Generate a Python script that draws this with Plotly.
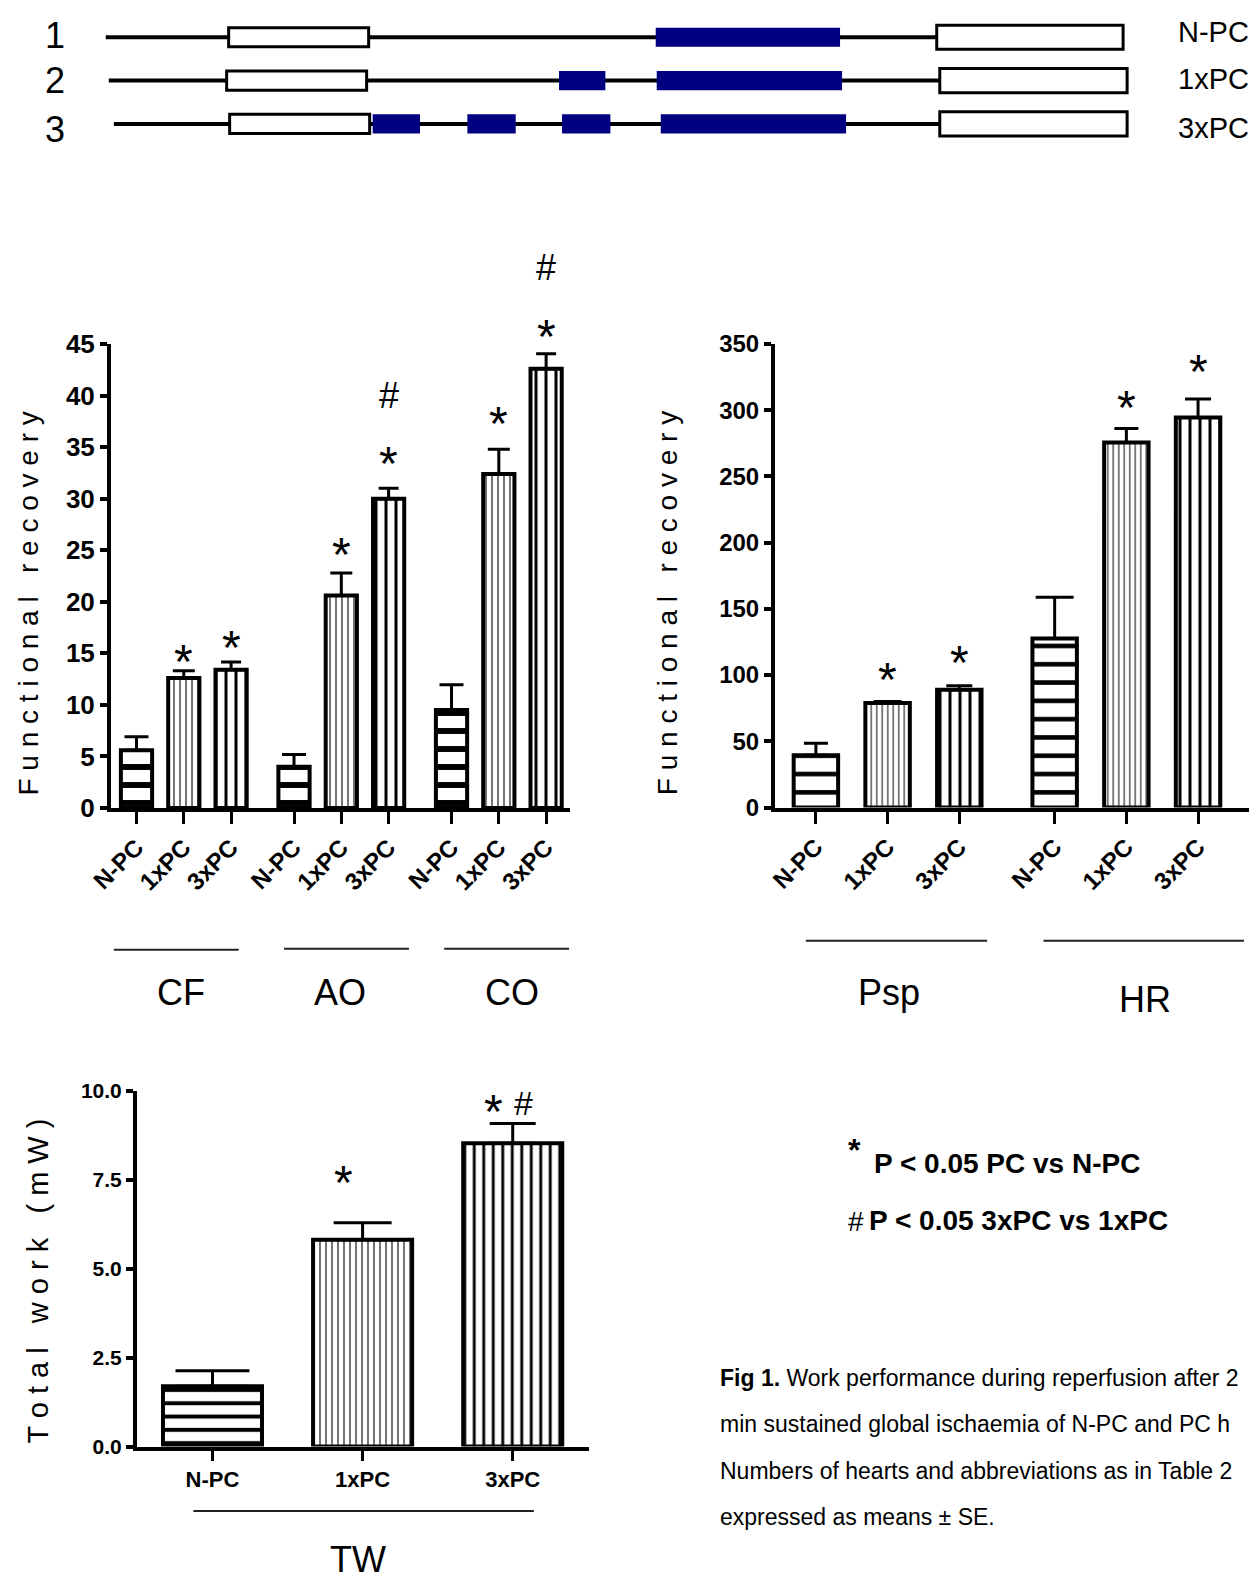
import plotly.graph_objects as go

# ---------------- data ----------------
conditions = ["N-PC", "1xPC", "3xPC"]

left_groups = ["CF", "AO", "CO"]
cf_mean = [5.6, 12.6, 13.4]
cf_se = [1.3, 0.7, 0.75]
ao_mean = [4.0, 20.6, 30.0]
ao_se = [1.2, 2.2, 1.0]
co_mean = [9.5, 32.4, 42.6]
co_se = [2.45, 2.4, 1.45]
left_sig = [["", "*", "*"], ["", "*", "*#"], ["", "*", "*#"]]
left_ticks = [0, 5, 10, 15, 20, 25, 30, 35, 40, 45]

right_groups = ["Psp", "HR"]
psp_mean = [39.5, 79.0, 89.0]
psp_se = [9.0, 1.0, 3.0]
hr_mean = [127.7, 275.6, 294.5]
hr_se = [31.0, 10.5, 14.0]
right_sig = [["", "*", "*"], ["", "*", "*"]]
right_ticks = [0, 50, 100, 150, 200, 250, 300, 350]

tw_group = "TW"
tw_mean = [1.69, 5.81, 8.52]
tw_se = [0.44, 0.48, 0.56]
tw_sig = ["", "*", "*#"]
tw_ticks = [0.0, 2.5, 5.0, 7.5, 10.0]
tw_ticktext = ["0.0", "2.5", "5.0", "7.5", "10.0"]

# protocol schematic (timeline units)
protocol_numbers = ["1", "2", "3"]
protocol_names = ["N-PC", "1xPC", "3xPC"]
perfusion_start = [105, 108, 113]
perfusion_end = [930, 933, 933]
stabilisation = [(227, 366), (225, 364), (228, 367)]
ischaemia = [[(651, 834)],
             [(555, 601), (652, 836)],
             [(370, 417), (464, 512), (558, 606), (656, 840)]]
reperfusion = [(930, 1115), (933, 1119), (933, 1119)]

legend_lines = [("*", "P &lt; 0.05 PC vs N-PC"), ("#", "P &lt; 0.05 3xPC vs 1xPC")]
caption_lines = ["<b>Fig 1.</b> Work performance during reperfusion after 2",
                 "min sustained global ischaemia of N-PC and PC h",
                 "Numbers of hearts and abbreviations as in Table 2",
                 "expressed as means \u00b1 SE."]

# ---------------- style / layout ----------------
W, H = 1250, 1580
S = 1250 / 1241.0
NARROW = "Liberation Sans Narrow, Arial Narrow, Liberation Sans, Arial, sans-serif"
SANS = "Liberation Sans, Arial, sans-serif"


def px(x):
    return x / W


def py(y):
    return 1 - y / H


def dom(a, b, total):
    return [a / total, b / total]


fig = go.Figure()

patterns = {
    "left": [dict(shape="-", size=18, solidity=0.33), dict(shape="|", size=6, solidity=0.18), dict(shape="|", size=10, solidity=0.3)],
    "right": [dict(shape="-", size=18.3, solidity=0.25), dict(shape="|", size=5.5, solidity=0.18), dict(shape="|", size=10, solidity=0.3)],
    "tw": [dict(shape="-", size=13.3, solidity=0.3), dict(shape="|", size=6, solidity=0.18), dict(shape="|", size=9.5, solidity=0.3)],
}


def add_bar(xpos, mean, se, xa, ya, width, pat, capw):
    fig.add_trace(go.Bar(
        x=[xpos], y=[mean], width=[width], xaxis=xa, yaxis=ya,
        marker=dict(color="white", line=dict(color="black", width=4),
                    pattern=dict(shape=pat["shape"], size=pat["size"], solidity=pat["solidity"],
                                 fgcolor="black", bgcolor="white", fillmode="replace")),
        error_y=dict(type="data", symmetric=False, array=[se], arrayminus=[0],
                     color="black", thickness=3, width=capw),
        showlegend=False, hoverinfo="skip"))


annotations = []
STAR_FS = 48
HASH_FS = 36
STAR_OFF = 0.602 * STAR_FS + 1
HASH_OFF = 0.212 * HASH_FS + 1


def add_sig(sig, xpos, top, xr, yr, gap, side=False):
    if "*" in sig:
        annotations.append(dict(text="*", x=xpos, y=top, xref=xr, yref=yr, showarrow=False,
                                xanchor="center", yanchor="bottom",
                                xshift=-19 if side else 0, yshift=gap - STAR_OFF,
                                font=dict(family=SANS, size=STAR_FS, color="black")))
    if "#" in sig:
        if side:
            annotations.append(dict(text="#", x=xpos, y=top, xref=xr, yref=yr, showarrow=False,
                                    xanchor="center", yanchor="bottom", xshift=11,
                                    yshift=gap - 5 - HASH_OFF,
                                    font=dict(family=NARROW, size=HASH_FS - 2, color="black")))
        else:
            annotations.append(dict(text="#", x=xpos, y=top, xref=xr, yref=yr, showarrow=False,
                                    xanchor="center", yanchor="bottom",
                                    yshift=gap + 53 - HASH_OFF,
                                    font=dict(family=NARROW, size=HASH_FS, color="black")))


# ---- left chart (CF, AO, CO) ----
L_X0, L_X1, L_Y0, L_Y1 = 111, 570, 344, 808
L_FIRST, L_UNIT, L_GAP = 136.5, 47.3, 1.33
left_means = [cf_mean, ao_mean, co_mean]
left_ses = [cf_se, ao_se, co_se]
left_caps = [12, 11, 10]
left_gaps = [[0, 11, 16], [0, 20, 26], [0, 27, 19]]
left_pos, left_text = [], []
for g in range(len(left_groups)):
    for i in range(len(conditions)):
        p = g * (len(conditions) - 1 + L_GAP) + i
        left_pos.append(p)
        left_text.append(conditions[i])
        add_bar(p, left_means[g][i], left_ses[g][i], "x", "y", 0.66, patterns["left"][i], left_caps[i])
        add_sig(left_sig[g][i], p, left_means[g][i] + left_ses[g][i], "x", "y", left_gaps[g][i])

# ---- right chart (Psp, HR) ----
R_X0, R_X1, R_Y0, R_Y1 = 775, 1249, 344, 807.5
R_FIRST, R_UNIT, R_GAP = 815.9, 71.7, 1.33
right_means = [psp_mean, hr_mean]
right_ses = [psp_se, hr_se]
right_caps = [[12, 14, 13], [19, 12, 13]]
right_gaps = [[0, 23, 25], [0, 23, 29]]
right_pos, right_text = [], []
for g in range(len(right_groups)):
    for i in range(len(conditions)):
        p = g * (len(conditions) - 1 + R_GAP) + i
        right_pos.append(p)
        right_text.append(conditions[i])
        add_bar(p, right_means[g][i], right_ses[g][i], "x2", "y2", 0.62, patterns["right"][i], right_caps[g][i])
        add_sig(right_sig[g][i], p, right_means[g][i] + right_ses[g][i], "x2", "y2", right_gaps[g][i])

# ---- bottom chart (TW) ----
B_X0, B_X1, B_Y0, B_Y1 = 137, 589, 1090.7, 1446.5
B_FIRST, B_UNIT = 212.5, 150.1
tw_caps = [37, 29, 23]
tw_gaps = [0, 42, 13]
tw_pos = list(range(len(conditions)))
for i in range(len(conditions)):
    add_bar(tw_pos[i], tw_mean[i], tw_se[i], "x3", "y3", 0.66, patterns["tw"][i], tw_caps[i])
    add_sig(tw_sig[i], tw_pos[i], tw_mean[i] + tw_se[i], "x3", "y3", tw_gaps[i], side=True)

# ---- protocol schematic ----
ROW0, ROW_STEP, D_TOP, D_BOT = 37, 43, 0, 160
NAVY = "#000080"
for r in range(len(protocol_numbers)):
    fig.add_trace(go.Bar(orientation="h", y=[r], x=[perfusion_end[r] - perfusion_start[r]],
                         base=[perfusion_start[r]], width=[4 / ROW_STEP], xaxis="x4", yaxis="y4",
                         marker=dict(color="black", line=dict(width=0)), showlegend=False, hoverinfo="skip"))
    a0, a1 = stabilisation[r]
    fig.add_trace(go.Bar(orientation="h", y=[r], x=[a1 - a0], base=[a0], width=[19 / ROW_STEP],
                         xaxis="x4", yaxis="y4",
                         marker=dict(color="white", line=dict(color="black", width=3)),
                         showlegend=False, hoverinfo="skip"))
    for (n0, n1) in ischaemia[r]:
        fig.add_trace(go.Bar(orientation="h", y=[r], x=[n1 - n0], base=[n0], width=[19 / ROW_STEP],
                             xaxis="x4", yaxis="y4",
                             marker=dict(color=NAVY, line=dict(width=0)),
                             showlegend=False, hoverinfo="skip"))
    b0, b1 = reperfusion[r]
    fig.add_trace(go.Bar(orientation="h", y=[r], x=[b1 - b0], base=[b0], width=[24 / ROW_STEP],
                         xaxis="x4", yaxis="y4",
                         marker=dict(color="white", line=dict(color="black", width=3)),
                         showlegend=False, hoverinfo="skip"))
    annotations.append(dict(text=protocol_numbers[r], x=55, y=r, xref="x4", yref="y4", showarrow=False,
                            xanchor="center", yanchor="middle", yshift=2 if r == 0 else (-6 if r == 2 else 0),
                            font=dict(family=NARROW, size=36, color="black")))
    annotations.append(dict(text=protocol_names[r], x=1168, y=r, xref="x4", yref="y4", showarrow=False,
                            xanchor="left", yanchor="middle", yshift=5 if r == 0 else (-4 if r == 2 else 2),
                            font=dict(family=NARROW, size=29, color="black")))

axis_common = dict(showgrid=False, zeroline=False, showline=True, linecolor="black",
                   ticks="outside", tickcolor="black", automargin=False)

layout = dict(
    template="none",
    width=W, height=H, margin=dict(l=0, r=0, t=0, b=0, pad=0, autoexpand=False),
    paper_bgcolor="white", plot_bgcolor="white", barmode="overlay", showlegend=False,
    xaxis=dict(axis_common, domain=dom(L_X0, L_X1, W),
               range=[(L_X0 - L_FIRST) / L_UNIT, (L_X1 - L_FIRST) / L_UNIT],
               tickvals=left_pos, ticktext=left_text, tickangle=-45, linewidth=4, ticklen=12, tickwidth=3,
               tickfont=dict(family=NARROW, size=24, color="black", weight="bold"), anchor="y"),
    yaxis=dict(axis_common, domain=[py(L_Y1), py(L_Y0)], range=[0, 45], tickvals=left_ticks,
               linewidth=4, ticklen=7, tickwidth=4,
               tickfont=dict(family=NARROW, size=26, color="black", weight="bold"), anchor="x"),
    xaxis2=dict(axis_common, domain=dom(R_X0, R_X1, W),
                range=[(R_X0 - R_FIRST) / R_UNIT, (R_X1 - R_FIRST) / R_UNIT],
                tickvals=right_pos, ticktext=right_text, tickangle=-45, linewidth=4, ticklen=12, tickwidth=3,
                tickfont=dict(family=NARROW, size=24, color="black", weight="bold"), anchor="y2"),
    yaxis2=dict(axis_common, domain=[py(R_Y1), py(R_Y0)], range=[0, 350], tickvals=right_ticks,
                linewidth=4, ticklen=7, tickwidth=4,
                tickfont=dict(family=NARROW, size=24, color="black", weight="bold"), anchor="x2"),
    xaxis3=dict(axis_common, domain=dom(B_X0, B_X1, W),
                range=[(B_X0 - B_FIRST) / B_UNIT, (B_X1 - B_FIRST) / B_UNIT],
                tickvals=tw_pos, ticktext=conditions, linewidth=4, ticklen=10, tickwidth=3,
                tickfont=dict(family=NARROW, size=22, color="black", weight="bold"), anchor="y3"),
    yaxis3=dict(axis_common, domain=[py(B_Y1), py(B_Y0)], range=[0, 10], tickvals=tw_ticks,
                ticktext=tw_ticktext, linewidth=4, ticklen=7, tickwidth=4,
                tickfont=dict(family=NARROW, size=21, color="black", weight="bold"), anchor="x3"),
    xaxis4=dict(domain=[0, 1], range=[0, 1241], visible=False, fixedrange=True, automargin=False),
    yaxis4=dict(domain=[py(D_BOT * S), 1],
                range=[(D_BOT - ROW0) / ROW_STEP, (D_TOP - ROW0) / ROW_STEP],
                visible=False, fixedrange=True, automargin=False),
)


# axis titles (letter-spaced)
def spaced(t):
    return "   ".join(" ".join(w) for w in t.split(" "))


annotations.append(dict(text=spaced("Functional recovery"), x=px(28 * S), y=py(599 * S), xref="paper", yref="paper",
                        textangle=-90, showarrow=False, xanchor="center", yanchor="middle",
                        font=dict(family=NARROW, size=28, color="black")))
annotations.append(dict(text=spaced("Functional recovery"), x=px(663 * S), y=py(599 * S), xref="paper", yref="paper",
                        textangle=-90, showarrow=False, xanchor="center", yanchor="middle",
                        font=dict(family=NARROW, size=28, color="black")))
annotations.append(dict(text=spaced("Total work (mW)"), x=px(38 * S), y=py(1272 * S), xref="paper", yref="paper",
                        textangle=-90, showarrow=False, xanchor="center", yanchor="middle",
                        font=dict(family=NARROW, size=29, color="black")))

# group labels and underlines
group_marks = [("CF", 113, 237, 943, 180, 985), ("AO", 282, 406, 942, 338, 985), ("CO", 441, 565, 942, 508, 985),
               ("Psp", 800, 980, 934, 883, 985), ("HR", 1036, 1235, 934, 1137, 992),
               ("TW", 192, 530, 1500, 355, 1548)]
shapes = []
for name, l0, l1, ly, tx, ty in group_marks:
    shapes.append(dict(type="line", xref="paper", yref="paper", x0=px(l0 * S), x1=px(l1 * S),
                       y0=py(ly * S), y1=py(ly * S), line=dict(color="#222222", width=2)))
    annotations.append(dict(text=name, x=px(tx * S), y=py(ty * S), xref="paper", yref="paper", showarrow=False,
                            xanchor="center", yanchor="middle", font=dict(family=NARROW, size=36, color="black")))

# legend text
annotations.append(dict(text=legend_lines[0][0], x=px(848 * S), y=py(1142 * S), xref="paper", yref="paper",
                        showarrow=False, xanchor="center", yanchor="middle",
                        font=dict(family=SANS, size=32, color="black", weight="bold")))
annotations.append(dict(text=legend_lines[0][1], x=px(866 * S), y=py(1155 * S), xref="paper", yref="paper",
                        showarrow=False, xanchor="left", yanchor="middle",
                        font=dict(family=NARROW, size=28, color="black", weight="bold")))
annotations.append(dict(text=legend_lines[1][0], x=px(850 * S), y=py(1213 * S), xref="paper", yref="paper",
                        showarrow=False, xanchor="center", yanchor="middle",
                        font=dict(family=NARROW, size=28, color="black")))
annotations.append(dict(text=legend_lines[1][1], x=px(861 * S), y=py(1212 * S), xref="paper", yref="paper",
                        showarrow=False, xanchor="left", yanchor="middle",
                        font=dict(family=NARROW, size=28, color="black", weight="bold")))

# caption
for k, line in enumerate(caption_lines):
    annotations.append(dict(text=line, x=px(713 * S), y=py((1368 + 46 * k) * S), xref="paper", yref="paper",
                            showarrow=False, xanchor="left", yanchor="middle",
                            font=dict(family=NARROW, size=23, color="black")))

layout["annotations"] = annotations
layout["shapes"] = shapes
fig.update_layout(**layout)
fig.write_html("out.html")
